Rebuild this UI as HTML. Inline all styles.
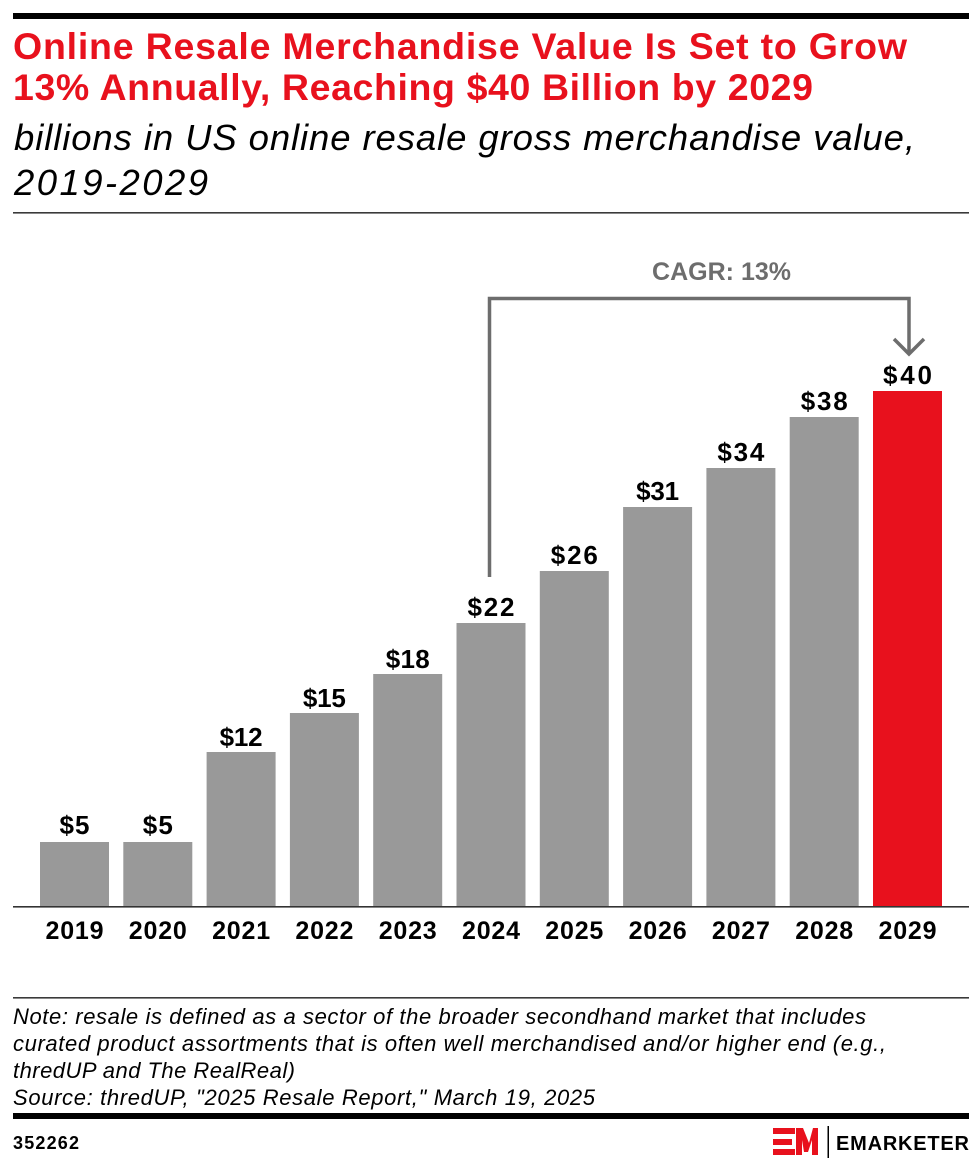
<!DOCTYPE html>
<html>
<head>
<meta charset="utf-8">
<style>
  html, body { margin: 0; padding: 0; background: #ffffff; }
  svg { display: block; }
  text { font-family: "Liberation Sans", Arial, sans-serif; }
</style>
</head>
<body>
<svg width="980" height="1168" viewBox="0 0 980 1168" xmlns="http://www.w3.org/2000/svg">
  <rect x="0" y="0" width="980" height="1168" fill="#ffffff"/>

  <!-- Header -->
  <rect x="13" y="13" width="956" height="6" fill="#000000"/>
  <text x="13" y="59" font-size="37.5" font-weight="bold" fill="#e8111d" textLength="894" lengthAdjust="spacing">Online Resale Merchandise Value Is Set to Grow</text>
  <text x="13" y="100" font-size="37.5" font-weight="bold" fill="#e8111d" textLength="800" lengthAdjust="spacing">13% Annually, Reaching $40 Billion by 2029</text>
  <text x="14" y="150" font-size="36.5" font-style="italic" fill="#000000" textLength="901" lengthAdjust="spacing">billions in US online resale gross merchandise value,</text>
  <text x="14" y="195" font-size="36.5" font-style="italic" fill="#000000" textLength="194" lengthAdjust="spacing">2019-2029</text>
  <rect x="13" y="212" width="956" height="1.6" fill="#3a3a3a"/>

  <!-- CAGR annotation -->
  <text x="721.5" y="280" font-size="25" font-weight="bold" fill="#6d6d6d" text-anchor="middle" textLength="139" lengthAdjust="spacing">CAGR: 13%</text>
  <path d="M489.5 577 V298.5 H909 V354" fill="none" stroke="#6d6d6d" stroke-width="3.5"/>
  <path d="M894 339 L909 354 L924 339" fill="none" stroke="#6d6d6d" stroke-width="3.5"/>

  <!-- Bars -->
  <g fill="#999999">
    <rect x="40" y="842" width="69" height="65"/>
    <rect x="123.3" y="842" width="69" height="65"/>
    <rect x="206.6" y="752" width="69" height="155"/>
    <rect x="289.9" y="713" width="69" height="194"/>
    <rect x="373.2" y="674" width="69" height="233"/>
    <rect x="456.5" y="623" width="69" height="284"/>
    <rect x="539.8" y="571" width="69" height="336"/>
    <rect x="623.1" y="507" width="69" height="400"/>
    <rect x="706.4" y="468" width="69" height="439"/>
    <rect x="789.7" y="417" width="69" height="490"/>
  </g>
  <rect x="873" y="391" width="69" height="516" fill="#e8111d"/>

  <!-- Value labels -->
  <g font-size="26" font-weight="bold" fill="#000000" text-anchor="middle">
    <text x="74.5" y="834" textLength="30" lengthAdjust="spacing">$5</text>
    <text x="157.8" y="834" textLength="30" lengthAdjust="spacing">$5</text>
    <text x="241.1" y="746" textLength="43" lengthAdjust="spacing">$12</text>
    <text x="324.4" y="707" textLength="43" lengthAdjust="spacing">$15</text>
    <text x="407.7" y="668" textLength="44" lengthAdjust="spacing">$18</text>
    <text x="491" y="616" textLength="47" lengthAdjust="spacing">$22</text>
    <text x="574.3" y="564" textLength="47" lengthAdjust="spacing">$26</text>
    <text x="657.6" y="500" textLength="43" lengthAdjust="spacing">$31</text>
    <text x="740.9" y="461" textLength="47" lengthAdjust="spacing">$34</text>
    <text x="824.2" y="410" textLength="47" lengthAdjust="spacing">$38</text>
    <text x="907.5" y="384" textLength="49" lengthAdjust="spacing">$40</text>
  </g>

  <!-- Axis -->
  <rect x="13" y="906" width="956" height="1.6" fill="#333333"/>

  <!-- Year labels -->
  <g font-size="25" font-weight="bold" fill="#000000" text-anchor="middle">
    <text x="74.5" y="939" textLength="58" lengthAdjust="spacing">2019</text>
    <text x="157.8" y="939" textLength="58" lengthAdjust="spacing">2020</text>
    <text x="241.1" y="939" textLength="58" lengthAdjust="spacing">2021</text>
    <text x="324.4" y="939" textLength="58" lengthAdjust="spacing">2022</text>
    <text x="407.7" y="939" textLength="58" lengthAdjust="spacing">2023</text>
    <text x="491" y="939" textLength="58" lengthAdjust="spacing">2024</text>
    <text x="574.3" y="939" textLength="58" lengthAdjust="spacing">2025</text>
    <text x="657.6" y="939" textLength="58" lengthAdjust="spacing">2026</text>
    <text x="740.9" y="939" textLength="58" lengthAdjust="spacing">2027</text>
    <text x="824.2" y="939" textLength="58" lengthAdjust="spacing">2028</text>
    <text x="907.5" y="939" textLength="58" lengthAdjust="spacing">2029</text>
  </g>

  <!-- Footer -->
  <rect x="13" y="997" width="956" height="1.6" fill="#3a3a3a"/>
  <g font-size="22" font-style="italic" fill="#000000">
    <text x="13" y="1024" textLength="853" lengthAdjust="spacing">Note: resale is defined as a sector of the broader secondhand market that includes</text>
    <text x="13" y="1051" textLength="873" lengthAdjust="spacing">curated product assortments that is often well merchandised and/or higher end (e.g.,</text>
    <text x="13" y="1078" textLength="282" lengthAdjust="spacing">thredUP and The RealReal)</text>
    <text x="13" y="1105" textLength="582" lengthAdjust="spacing">Source: thredUP, "2025 Resale Report," March 19, 2025</text>
  </g>
  <rect x="13" y="1113" width="956" height="6" fill="#000000"/>

  <text x="13" y="1149" font-size="18" font-weight="bold" fill="#000000" textLength="66" lengthAdjust="spacing">352262</text>

  <!-- Logo -->
  <g fill="#e8111d">
    <rect x="773" y="1128" width="22" height="6"/>
    <rect x="773" y="1139" width="19" height="6"/>
    <rect x="773" y="1149" width="22" height="6"/>
    <polygon points="796,1155 796,1128 803,1128 809,1143 813,1128 818,1128 818,1155 812,1155 812,1140 808,1152 804,1152 802,1140 802,1155"/>
  </g>
  <rect x="827.5" y="1126" width="1.5" height="32" fill="#000000"/>
  <text x="836" y="1150" font-size="20" font-weight="bold" fill="#000000" textLength="133" lengthAdjust="spacing">EMARKETER</text>
</svg>
</body>
</html>
